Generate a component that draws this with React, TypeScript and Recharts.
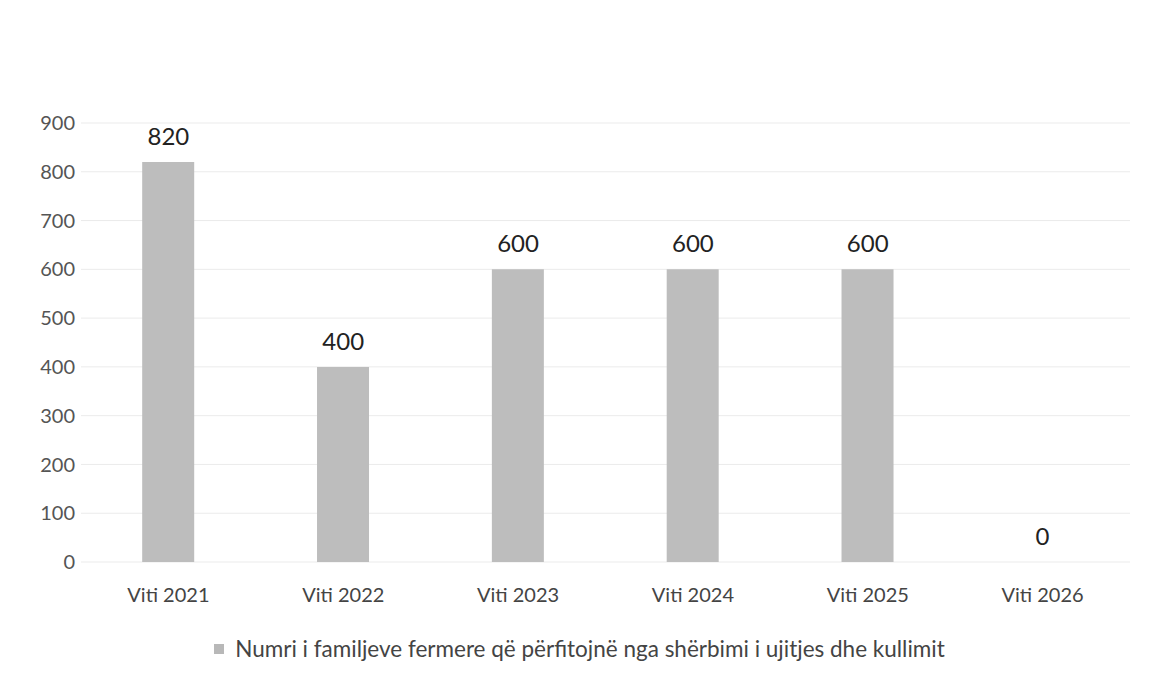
import { Bar, CartesianGrid, ComposedChart, LabelList, Legend, Line, XAxis, YAxis } from "recharts"

const categories = ["Viti 2021", "Viti 2022", "Viti 2023", "Viti 2024", "Viti 2025", "Viti 2026"]
const familyCounts = [820, 400, 600, 600, 600, 0]
const yTicks = [0, 100, 200, 300, 400, 500, 600, 700, 800, 900]
const seriesName = "Numri i familjeve fermere që përfitojnë nga shërbimi i ujitjes dhe kullimit"

const data = categories.map((name, i) => ({ name, value: familyCounts[i] }))

const font = "Lato, 'Open Sans', sans-serif"

function LegendContent() {
  return (
    <div
      style={{
        display: "flex",
        justifyContent: "center",
        alignItems: "center",
        fontFamily: font,
        fontSize: 22.5,
        color: "#444",
        paddingLeft: 8,
      }}
    >
      <span style={{ width: 10, height: 10, background: "#b8b8b8", marginRight: 11, display: "inline-block" }} />
      <span>{seriesName}</span>
    </div>
  )
}

export default function App() {
  return (
    <div style={{ position: "absolute", left: 0, top: 0, width: 1155, height: 684, background: "#fff" }}>
      <ComposedChart
        width={1155}
        height={684}
        data={data}
        margin={{ top: 123, right: 25, bottom: 19, left: 21 }}
        barCategoryGap="35%"
      >
        <CartesianGrid vertical={false} stroke="#ebebeb" />
        <XAxis
          dataKey="name"
          axisLine={false}
          tickLine={false}
          tickSize={0}
          tickMargin={26}
          height={73}
          tick={{ fill: "#444", fontSize: 20, fontFamily: font }}
        />
        <YAxis
          domain={[0, 900]}
          ticks={yTicks}
          axisLine={false}
          tickLine={false}
          tickSize={0}
          tickMargin={6}
          width={60}
          tick={{ fill: "#555", fontSize: 20, fontFamily: font }}
        />
        <Legend verticalAlign="bottom" height={30} content={<LegendContent />} />
        <Bar dataKey="value" name={seriesName} fill="#bdbdbd" isAnimationActive={false} />
        <Line
          dataKey="value"
          stroke="none"
          dot={false}
          activeDot={false}
          legendType="none"
          isAnimationActive={false}
        >
          <LabelList
            dataKey="value"
            position="top"
            offset={17}
            style={{ fill: "#222", fontSize: 24, fontFamily: font }}
          />
        </Line>
      </ComposedChart>
    </div>
  )
}
